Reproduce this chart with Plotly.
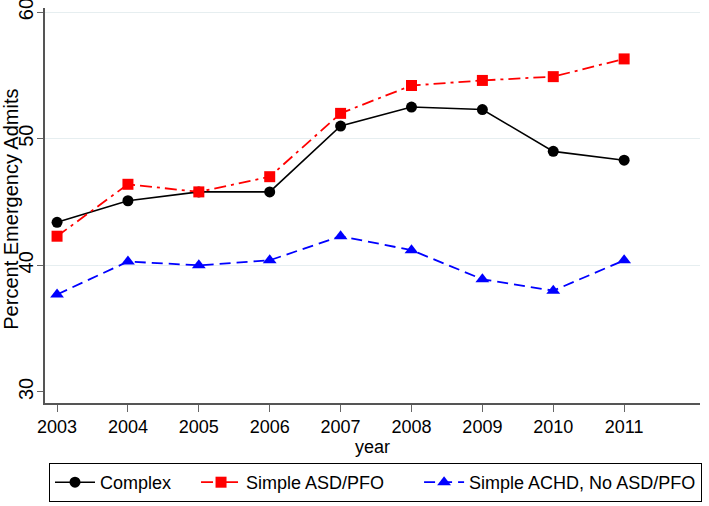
import plotly.graph_objects as go

years = [2003, 2004, 2005, 2006, 2007, 2008, 2009, 2010, 2011]
complex_vals = [43.4, 45.1, 45.8, 45.8, 51.0, 52.5, 52.3, 49.0, 48.3]
simple_asd_pfo = [42.3, 46.4, 45.8, 47.0, 52.0, 54.2, 54.6, 54.9, 56.3]
simple_achd = [37.7, 40.3, 40.0, 40.4, 42.3, 41.2, 38.9, 38.0, 40.4]
y_ticks = [30, 40, 50, 60]
grid_vals = [40, 50, 60]

font = "Liberation Sans, Arial, sans-serif"
NB = "\u00a0"

fig = go.Figure()
yr = [29.13, 60.32]
fig.add_trace(go.Scatter(x=[years[0]], y=[grid_vals[0]], yaxis="y2", mode="markers",
                         marker=dict(opacity=0), showlegend=False, hoverinfo="skip"))
fig.add_trace(go.Scatter(x=years, y=complex_vals, name="Complex" + NB * 4, mode="lines+markers",
                         line=dict(color="black", width=1.6),
                         marker=dict(symbol="circle", size=11, color="black")))
fig.add_trace(go.Scatter(x=years, y=simple_asd_pfo, name="Simple ASD/PFO" + NB * 6, mode="lines+markers",
                         line=dict(color="#ff0000", width=1.8, dash="12px,5px,3px,5px"),
                         marker=dict(symbol="square", size=11, color="#ff0000")))
fig.add_trace(go.Scatter(x=years, y=simple_achd, name="Simple ACHD, No ASD/PFO", mode="lines+markers",
                         line=dict(color="#0000ff", width=1.8, dash="11px,6px"),
                         marker=dict(symbol="triangle-up", size=12, color="#0000ff")))

fig.update_layout(
    width=709, height=506,
    margin=dict(l=45, r=9, t=8, b=103),
    paper_bgcolor="white", plot_bgcolor="white",
    font=dict(family=font, size=18, color="black"),
    showlegend=True,
    legend=dict(orientation="h", xref="container", yref="container",
                x=375.5 / 709, xanchor="center", y=4 / 506, yanchor="bottom",
                bordercolor="black", borderwidth=1, font=dict(size=18),
                itemwidth=40, tracegroupgap=0),
    xaxis=dict(range=[2002.83, 2012.07], tickvals=years, ticks="outside", ticklen=7,
               tickcolor="#666", showline=True, linecolor="#555", linewidth=1.5,
               showgrid=False, zeroline=False, automargin=False,
               title=dict(text="year", font=dict(size=18), standoff=0),
               tickfont=dict(size=18)),
    yaxis=dict(range=yr, tickvals=y_ticks, ticks="outside", ticklen=6, tickcolor="#666",
               showline=True, linecolor="#555", linewidth=1.5, showgrid=False, zeroline=False,
               automargin=False, tickangle=-90, tickfont=dict(size=20),
               ticklabelstandoff=-4, ticklabeloverflow="allow"),
    yaxis2=dict(range=yr, overlaying="y", tickvals=grid_vals, showgrid=True,
                gridcolor="#e6eef0", gridwidth=1.2, showticklabels=False, ticks="",
                zeroline=False, showline=False, automargin=False),
    annotations=[dict(text="Percent Emergency Admits", textangle=-90, xref="paper", yref="paper",
                      x=-0.0515, y=0.49, xanchor="center", yanchor="middle", showarrow=False,
                      font=dict(size=20))],
)

fig.write_html("out.html", config={"displayModeBar": False},
               post_script="document.body.style.margin='0';")
